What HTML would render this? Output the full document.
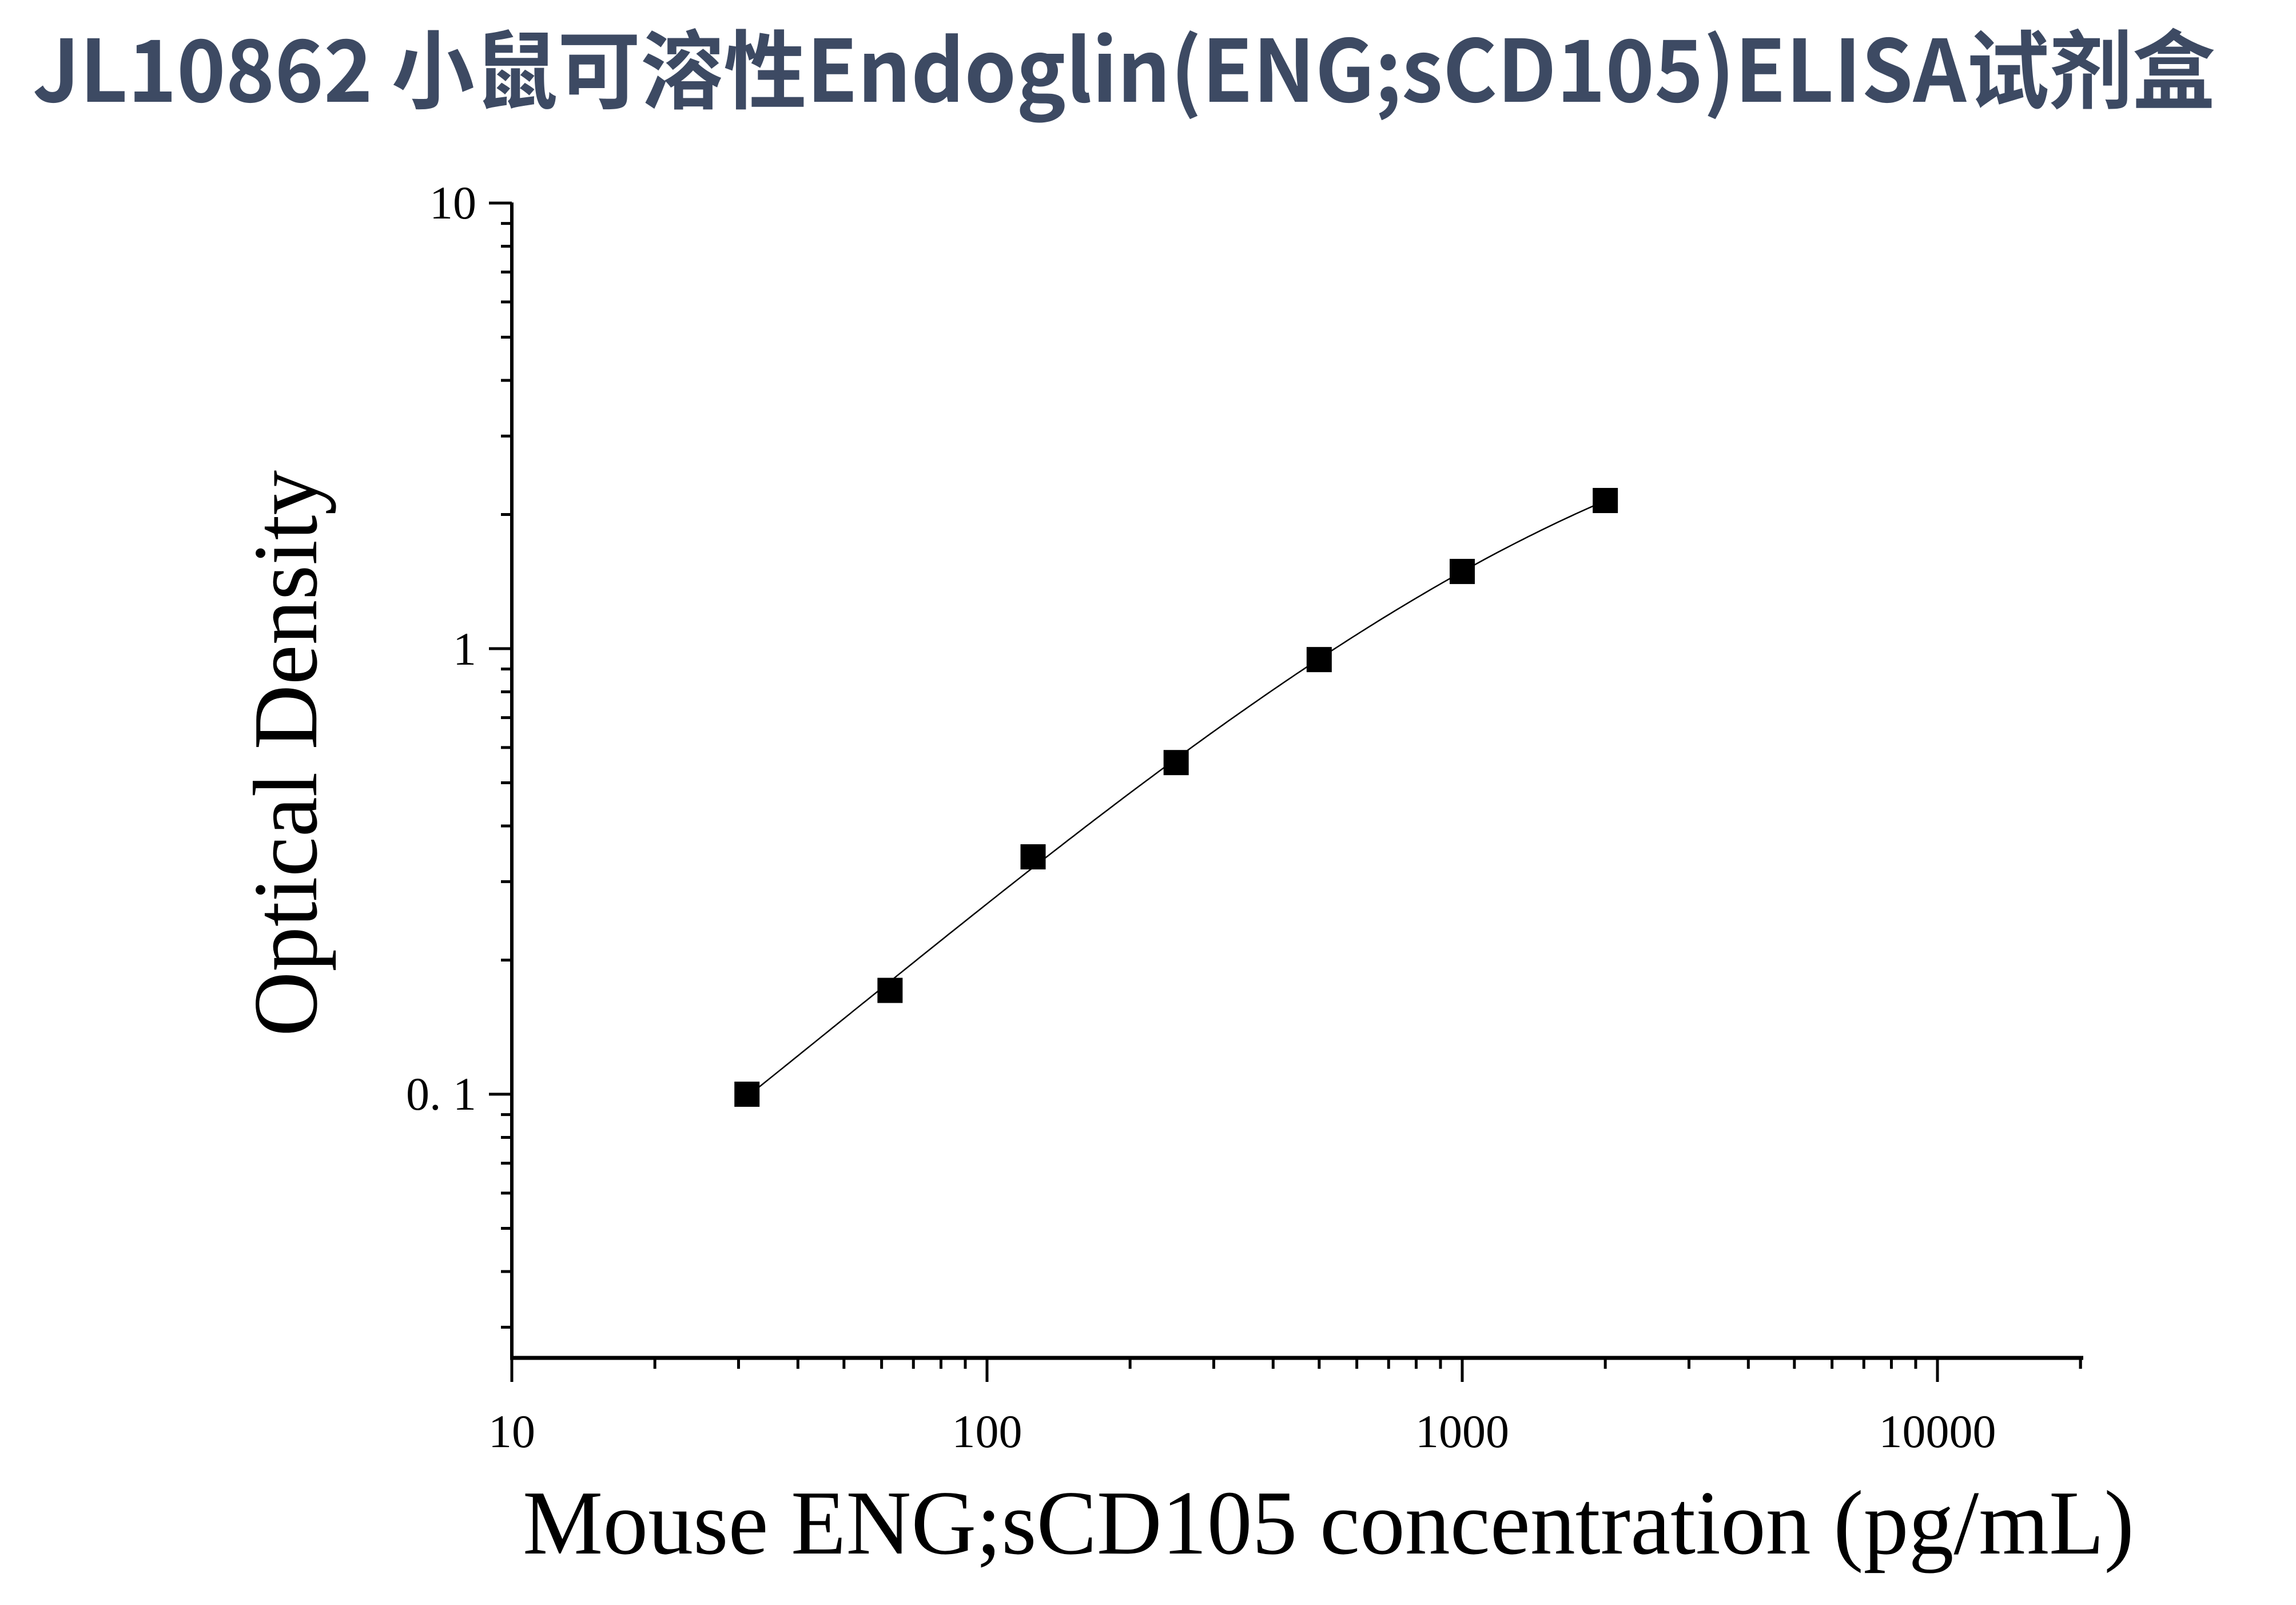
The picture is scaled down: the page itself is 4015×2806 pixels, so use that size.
<!DOCTYPE html>
<html><head><meta charset="utf-8"><style>
html,body{margin:0;padding:0;background:#fff;}
svg{display:block;}
</style></head><body>
<svg id="s" width="4015" height="2806" viewBox="0 0 4015 2806" xmlns="http://www.w3.org/2000/svg">
<rect width="4015" height="2806" fill="#fff"/>
<text x="57" y="178" font-family="'Noto Sans CJK SC','Liberation Sans',sans-serif" font-weight="bold" font-size="150" fill="#3d4a63" textLength="3817" lengthAdjust="spacingAndGlyphs">JL10862 小鼠可溶性Endoglin(ENG;sCD105)ELISA试剂盒</text>
<g id="ax" stroke="#000" fill="none"></g>
<line x1="895" y1="354" x2="895" y2="2376" stroke="#000" stroke-width="6"/>
<line x1="892" y1="2374" x2="3643" y2="2374" stroke="#000" stroke-width="7"/>
<g font-family="'Liberation Serif',serif" font-size="82" fill="#000">
<text x="895" y="2530" text-anchor="middle">10</text>
<text x="1726" y="2530" text-anchor="middle">100</text>
<text x="2557" y="2530" text-anchor="middle">1000</text>
<text x="3388" y="2530" text-anchor="middle">10000</text>
<text x="833" y="382" text-anchor="end">10</text>
<text x="833" y="1162" text-anchor="end">1</text>
<text x="833" y="1940" text-anchor="end">0. 1</text>
</g>
<text x="914" y="2716" font-family="'Liberation Serif',serif" font-size="160" textLength="2818" lengthAdjust="spacingAndGlyphs">Mouse ENG;sCD105 concentration (pg/mL)</text>
<text transform="translate(553,1812) rotate(-90)" font-family="'Liberation Serif',serif" font-size="160" textLength="990" lengthAdjust="spacingAndGlyphs">Optical Density</text>
<g id="data"></g>
</svg>
<script>
var ns="http://www.w3.org/2000/svg";
function X(v){return 895+(Math.log10(v)-1)*831;}
function Y(v){return 1134-Math.log10(v)*779;}
var ax=document.getElementById('ax');
function ln(x1,y1,x2,y2,w){var l=document.createElementNS(ns,'line');l.setAttribute('x1',x1);l.setAttribute('y1',y1);l.setAttribute('x2',x2);l.setAttribute('y2',y2);l.setAttribute('stroke-width',w);ax.appendChild(l);}
for(var d=10;d<=10000;d*=10){for(var k=1;k<=9;k++){var v=d*k;if(v>20000)break;var x=X(v);if(k==1)ln(x,2374,x,2416,5);else ln(x,2374,x,2393,5);}}
ln(X(20000),2374,X(20000),2393,5);
for(var d=0.01;d<=10;d*=10){for(var k=1;k<=9;k++){var v=d*k;if(v<0.0255||v>10.001)continue;var y=Y(v);if(k==1)ln(895,y,855,y,5);else ln(895,y,876,y,5);}}
var xs=[31.25,62.5,125,250,500,1000,2000],ys=[0.1,0.171,0.341,0.555,0.945,1.49,2.15];
// cubic least squares fit in log-log
var lx=xs.map(function(v){return Math.log10(v);}),ly=ys.map(function(v){return Math.log10(v);});
var n=4,A=[],b=[];for(var i=0;i<n;i++){A.push([0,0,0,0]);b.push(0);}
for(var j=0;j<lx.length;j++){for(var i=0;i<n;i++){for(var k=0;k<n;k++)A[i][k]+=Math.pow(lx[j],i+k);b[i]+=ly[j]*Math.pow(lx[j],i);}}
for(var i=0;i<n;i++){var m=i;for(var r=i+1;r<n;r++)if(Math.abs(A[r][i])>Math.abs(A[m][i]))m=r;var t=A[i];A[i]=A[m];A[m]=t;t=b[i];b[i]=b[m];b[m]=t;
for(var r=0;r<n;r++){if(r==i)continue;var f=A[r][i]/A[i][i];for(var k=i;k<n;k++)A[r][k]-=f*A[i][k];b[r]-=f*b[i];}}
var c=b.map(function(v,i){return v/A[i][i];});
var d='';for(var s=0;s<=200;s++){var u=lx[0]+(lx[6]-lx[0])*s/200;var w=c[0]+c[1]*u+c[2]*u*u+c[3]*u*u*u;
d+=(s?'L':'M')+X(Math.pow(10,u)).toFixed(1)+','+Y(Math.pow(10,w)).toFixed(1);}
var g=document.getElementById('data');
var p=document.createElementNS(ns,'path');p.setAttribute('d',d);p.setAttribute('stroke','#000');p.setAttribute('stroke-width','2.5');p.setAttribute('fill','none');g.appendChild(p);
xs.forEach(function(v,i){var r=document.createElementNS(ns,'rect');r.setAttribute('x',X(v)-22);r.setAttribute('y',Y(ys[i])-22);r.setAttribute('width',44);r.setAttribute('height',44);r.setAttribute('fill','#000');g.appendChild(r);});
</script>
</body></html>
